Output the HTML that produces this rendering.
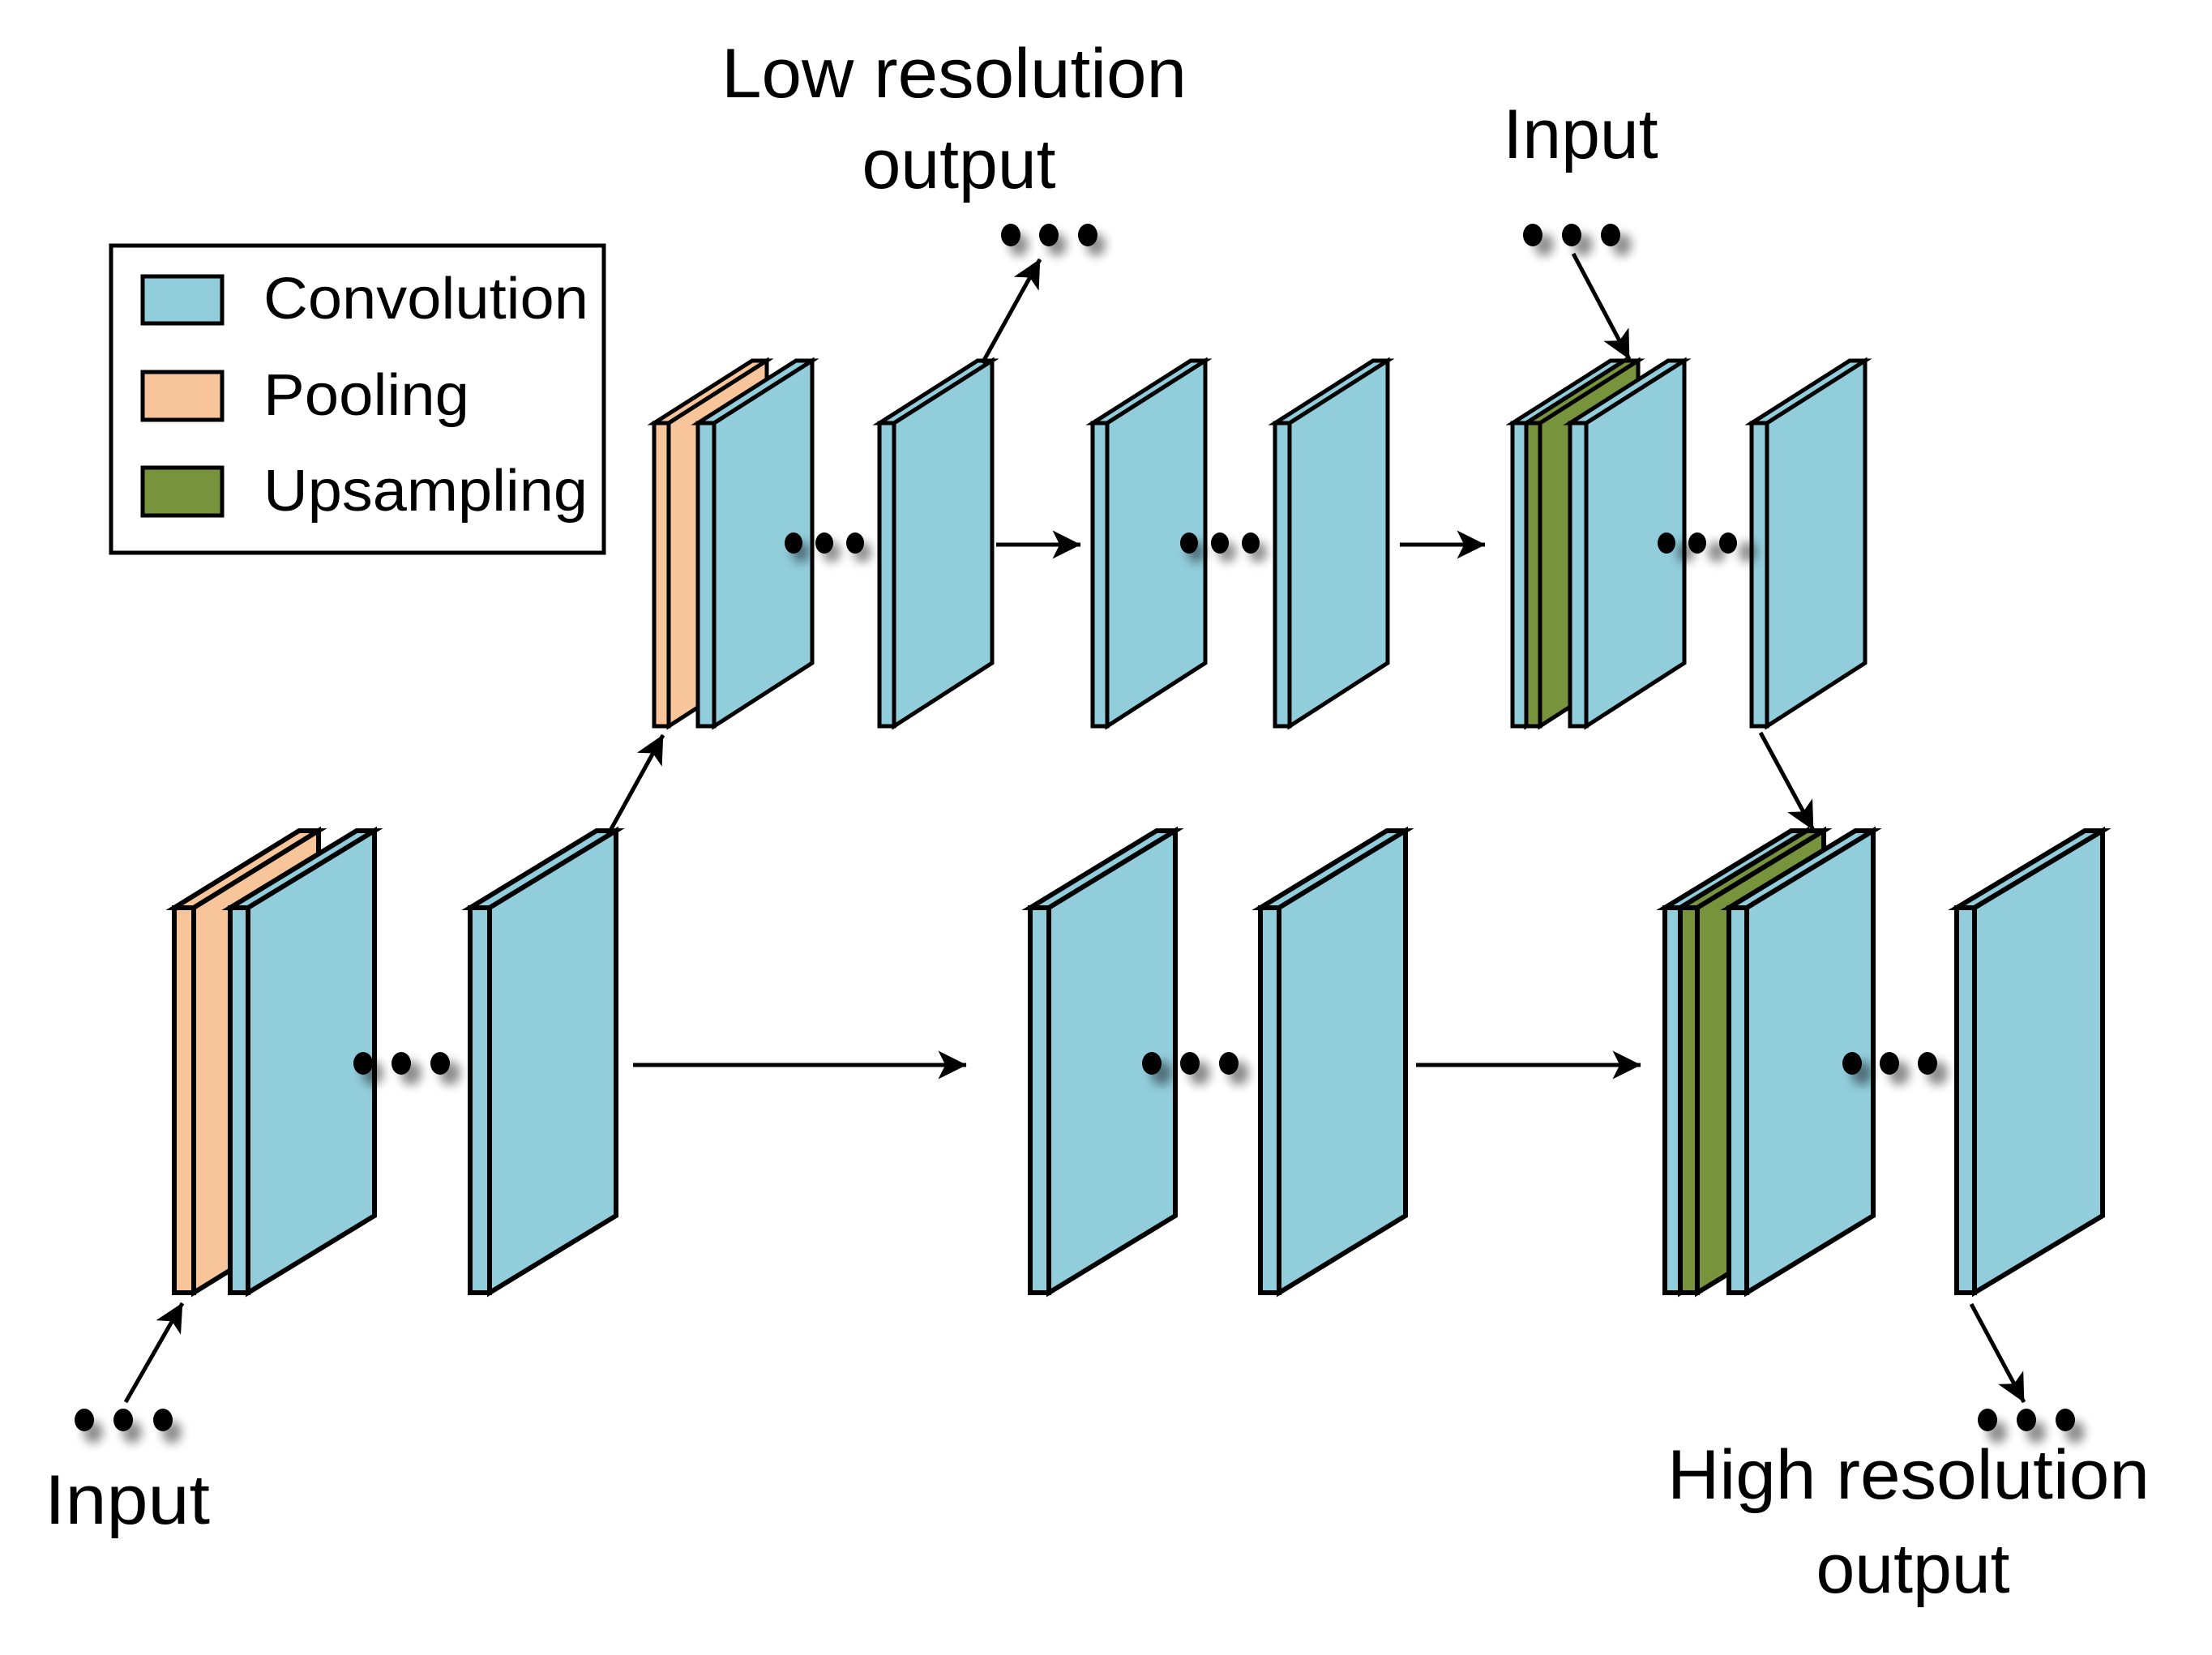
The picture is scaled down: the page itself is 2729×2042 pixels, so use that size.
<!DOCTYPE html>
<html><head><meta charset="utf-8"><style>
html,body{margin:0;padding:0;background:#fff;}
svg{display:block;}
text{font-family:"Liberation Sans",sans-serif;fill:#000;}
</style></head><body>
<svg width="2729" height="2042" viewBox="0 0 2729 2042" xmlns="http://www.w3.org/2000/svg">
<defs>
<marker id="ah" viewBox="0 0 20 20" refX="18" refY="10" markerWidth="11" markerHeight="11" markerUnits="userSpaceOnUse" orient="auto" style="overflow:visible">
<path d="M0,0 L20,10 L0,20 L5,10 Z" fill="#000" transform="scale(3.2) translate(-14,-6.9)"/>
</marker>
<filter id="sh" x="-50%" y="-50%" width="200%" height="200%"><feGaussianBlur stdDeviation="6"/></filter>
</defs>

<!-- Legend -->
<rect x="137" y="303" width="608" height="379" fill="#fff" stroke="#000" stroke-width="5"/>
<rect x="176" y="341" width="98" height="58" fill="#92CDDC" stroke="#000" stroke-width="5"/>
<rect x="176" y="459" width="98" height="59" fill="#F8C49A" stroke="#000" stroke-width="5"/>
<rect x="176" y="577" width="98" height="59" fill="#77933C" stroke="#000" stroke-width="5"/>
<text x="325" y="393" font-size="72" textLength="401" lengthAdjust="spacingAndGlyphs">Convolution</text>
<text x="325" y="512" font-size="72" textLength="254" lengthAdjust="spacingAndGlyphs">Pooling</text>
<text x="325" y="630" font-size="72" textLength="400" lengthAdjust="spacingAndGlyphs">Upsampling</text>

<!-- Labels -->
<text x="890" y="120" font-size="86" textLength="574" lengthAdjust="spacingAndGlyphs">Low resolution</text>
<text x="1183" y="232" font-size="86" text-anchor="middle">output</text>
<text x="1950" y="195" font-size="86" text-anchor="middle">Input</text>
<text x="55" y="1880" font-size="86" textLength="204" lengthAdjust="spacingAndGlyphs">Input</text>
<text x="2057" y="1849" font-size="86" textLength="595" lengthAdjust="spacingAndGlyphs">High resolution</text>
<text x="2360" y="1965" font-size="86" text-anchor="middle">output</text>

<g stroke="#000" stroke-width="6" stroke-linejoin="miter">
<!-- Bottom row -->
<g transform="translate(215,1120)" fill="#F8C49A"><polygon points="0,0 24,0 178,-95 154,-95"/><polygon points="24,0 178,-95 178,380 24,475"/><rect x="0" y="0" width="24" height="475"/></g>
<g transform="translate(284,1120)" fill="#92CDDC"><polygon points="0,0 22,0 178,-95 156,-95"/><polygon points="22,0 178,-95 178,380 22,475"/><rect x="0" y="0" width="22" height="475"/></g>
<g transform="translate(580,1120)" fill="#92CDDC"><polygon points="0,0 24,0 180,-95 156,-95"/><polygon points="24,0 180,-95 180,380 24,475"/><rect x="0" y="0" width="24" height="475"/></g>
<g transform="translate(1271,1120)" fill="#92CDDC"><polygon points="0,0 23,0 179,-95 156,-95"/><polygon points="23,0 179,-95 179,380 23,475"/><rect x="0" y="0" width="23" height="475"/></g>
<g transform="translate(1555,1120)" fill="#92CDDC"><polygon points="0,0 23,0 179,-95 156,-95"/><polygon points="23,0 179,-95 179,380 23,475"/><rect x="0" y="0" width="23" height="475"/></g>
<g transform="translate(2054,1120)" fill="#92CDDC"><polygon points="0,0 19,0 175,-95 156,-95"/><polygon points="19,0 175,-95 175,380 19,475"/><rect x="0" y="0" width="19" height="475"/></g>
<g transform="translate(2073,1120)" fill="#77933C"><polygon points="0,0 21,0 177,-95 156,-95"/><polygon points="21,0 177,-95 177,380 21,475"/><rect x="0" y="0" width="21" height="475"/></g>
<g transform="translate(2133,1120)" fill="#92CDDC"><polygon points="0,0 22,0 178,-95 156,-95"/><polygon points="22,0 178,-95 178,380 22,475"/><rect x="0" y="0" width="22" height="475"/></g>
<g transform="translate(2414,1120)" fill="#92CDDC"><polygon points="0,0 22,0 180,-95 158,-95"/><polygon points="22,0 180,-95 180,380 22,475"/><rect x="0" y="0" width="22" height="475"/></g>

<!-- Top row -->
<g stroke-width="5">
<g transform="translate(807,522)" fill="#F8C49A"><polygon points="0,0 18,0 139,-77 121,-77"/><polygon points="18,0 139,-77 139,296 18,374"/><rect x="0" y="0" width="18" height="374"/></g>
<g transform="translate(861,522)" fill="#92CDDC"><polygon points="0,0 20,0 141,-77 121,-77"/><polygon points="20,0 141,-77 141,296 20,374"/><rect x="0" y="0" width="20" height="374"/></g>
<g transform="translate(1085,522)" fill="#92CDDC"><polygon points="0,0 18,0 139,-77 121,-77"/><polygon points="18,0 139,-77 139,296 18,374"/><rect x="0" y="0" width="18" height="374"/></g>
<g transform="translate(1348,522)" fill="#92CDDC"><polygon points="0,0 18,0 139,-77 121,-77"/><polygon points="18,0 139,-77 139,296 18,374"/><rect x="0" y="0" width="18" height="374"/></g>
<g transform="translate(1573,522)" fill="#92CDDC"><polygon points="0,0 18,0 139,-77 121,-77"/><polygon points="18,0 139,-77 139,296 18,374"/><rect x="0" y="0" width="18" height="374"/></g>
<g transform="translate(1866,522)" fill="#92CDDC"><polygon points="0,0 17,0 138,-77 121,-77"/><polygon points="17,0 138,-77 138,296 17,374"/><rect x="0" y="0" width="17" height="374"/></g>
<g transform="translate(1883,522)" fill="#77933C"><polygon points="0,0 17,0 138,-77 121,-77"/><polygon points="17,0 138,-77 138,296 17,374"/><rect x="0" y="0" width="17" height="374"/></g>
<g transform="translate(1937,522)" fill="#92CDDC"><polygon points="0,0 20,0 141,-77 121,-77"/><polygon points="20,0 141,-77 141,296 20,374"/><rect x="0" y="0" width="20" height="374"/></g>
<g transform="translate(2161,522)" fill="#92CDDC"><polygon points="0,0 19,0 140,-77 121,-77"/><polygon points="19,0 140,-77 140,296 19,374"/><rect x="0" y="0" width="19" height="374"/></g>
</g>
</g>

<!-- Dots with shadows -->
<g fill="#000" opacity="0.45" filter="url(#sh)">
<ellipse cx="460" cy="1324" rx="13" ry="15"/><ellipse cx="507" cy="1324" rx="13" ry="15"/><ellipse cx="555" cy="1324" rx="13" ry="15"/>
<ellipse cx="1433" cy="1324" rx="13" ry="15"/><ellipse cx="1480" cy="1324" rx="13" ry="15"/><ellipse cx="1528" cy="1324" rx="13" ry="15"/>
<ellipse cx="2297" cy="1324" rx="13" ry="15"/><ellipse cx="2343" cy="1324" rx="13" ry="15"/><ellipse cx="2390" cy="1324" rx="13" ry="15"/>
<ellipse cx="988" cy="681" rx="11" ry="13"/><ellipse cx="1026" cy="681" rx="11" ry="13"/><ellipse cx="1064" cy="681" rx="11" ry="13"/>
<ellipse cx="1476" cy="681" rx="11" ry="13"/><ellipse cx="1514" cy="681" rx="11" ry="13"/><ellipse cx="1552" cy="681" rx="11" ry="13"/>
<ellipse cx="2080" cy="681" rx="11" ry="13"/><ellipse cx="2118" cy="681" rx="11" ry="13"/><ellipse cx="2156" cy="681" rx="11" ry="13"/>
<ellipse cx="1257" cy="302" rx="12" ry="14"/><ellipse cx="1304" cy="302" rx="12" ry="14"/><ellipse cx="1352" cy="302" rx="12" ry="14"/>
<ellipse cx="1905" cy="302" rx="12" ry="14"/><ellipse cx="1953" cy="302" rx="12" ry="14"/><ellipse cx="2001" cy="302" rx="12" ry="14"/>
<ellipse cx="115" cy="1767" rx="12" ry="14"/><ellipse cx="163" cy="1767" rx="12" ry="14"/><ellipse cx="212" cy="1767" rx="12" ry="14"/>
<ellipse cx="2464" cy="1767" rx="12" ry="14"/><ellipse cx="2512" cy="1767" rx="12" ry="14"/><ellipse cx="2560" cy="1767" rx="12" ry="14"/>
</g>
<g fill="#000">
<ellipse cx="448" cy="1312" rx="12" ry="14"/><ellipse cx="495" cy="1312" rx="12" ry="14"/><ellipse cx="543" cy="1312" rx="12" ry="14"/>
<ellipse cx="1421" cy="1312" rx="12" ry="14"/><ellipse cx="1468" cy="1312" rx="12" ry="14"/><ellipse cx="1516" cy="1312" rx="12" ry="14"/>
<ellipse cx="2285" cy="1312" rx="12" ry="14"/><ellipse cx="2331" cy="1312" rx="12" ry="14"/><ellipse cx="2378" cy="1312" rx="12" ry="14"/>
<ellipse cx="979" cy="670" rx="11" ry="13"/><ellipse cx="1017" cy="670" rx="11" ry="13"/><ellipse cx="1055" cy="670" rx="11" ry="13"/>
<ellipse cx="1467" cy="670" rx="11" ry="13"/><ellipse cx="1505" cy="670" rx="11" ry="13"/><ellipse cx="1543" cy="670" rx="11" ry="13"/>
<ellipse cx="2056" cy="670" rx="11" ry="13"/><ellipse cx="2094" cy="670" rx="11" ry="13"/><ellipse cx="2132" cy="670" rx="11" ry="13"/>
<ellipse cx="1247" cy="290" rx="12" ry="14"/><ellipse cx="1294" cy="290" rx="12" ry="14"/><ellipse cx="1342" cy="290" rx="12" ry="14"/>
<ellipse cx="1891" cy="290" rx="12" ry="14"/><ellipse cx="1939" cy="290" rx="12" ry="14"/><ellipse cx="1987" cy="290" rx="12" ry="14"/>
<ellipse cx="104" cy="1752" rx="12" ry="14"/><ellipse cx="152" cy="1752" rx="12" ry="14"/><ellipse cx="201" cy="1752" rx="12" ry="14"/>
<ellipse cx="2452" cy="1752" rx="12" ry="14"/><ellipse cx="2500" cy="1752" rx="12" ry="14"/><ellipse cx="2548" cy="1752" rx="12" ry="14"/>
</g>

<!-- Arrows -->
<g stroke="#000" stroke-width="5" fill="none" marker-end="url(#ah)">
<line x1="155" y1="1730" x2="225" y2="1608"/>
<line x1="750" y1="1030" x2="818" y2="907"/>
<line x1="1212" y1="448" x2="1283" y2="320"/>
<line x1="1229" y1="672" x2="1333" y2="672"/>
<line x1="1727" y1="672" x2="1832" y2="672"/>
<line x1="1941" y1="313" x2="2010" y2="443"/>
<line x1="2172" y1="904" x2="2237" y2="1024"/>
<line x1="781" y1="1314" x2="1192" y2="1314"/>
<line x1="1747" y1="1314" x2="2024" y2="1314"/>
<line x1="2432" y1="1609" x2="2497" y2="1730"/>
</g>
</svg>
</body></html>
